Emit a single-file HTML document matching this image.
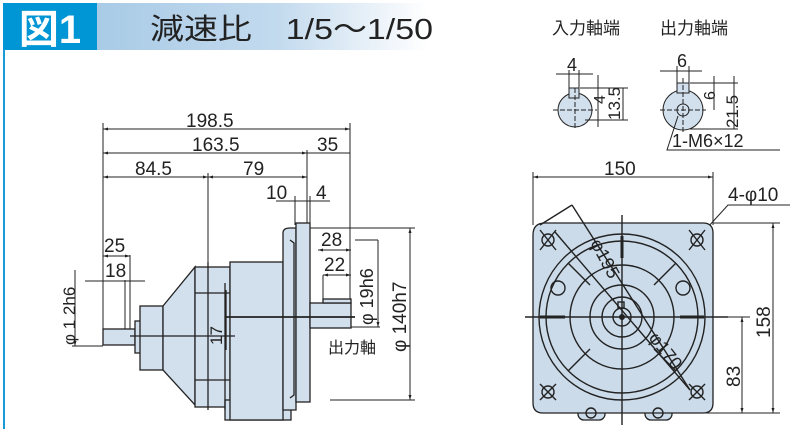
<!DOCTYPE html>
<html><head><meta charset="utf-8"><style>
html,body{margin:0;padding:0;background:#fff;width:800px;height:440px;overflow:hidden}
svg{display:block}
text{font-family:"Liberation Sans","Noto Sans CJK JP",sans-serif;fill:#222}
</style></head><body>
<svg width="800" height="440" viewBox="0 0 800 440" xmlns="http://www.w3.org/2000/svg">
<defs>
<linearGradient id="g" x1="0" x2="1"><stop offset="0" stop-color="#a9cbe6"/><stop offset="0.55" stop-color="#c3daee"/><stop offset="1" stop-color="#ffffff"/></linearGradient>
<marker id="a" viewBox="0 0 10 10" refX="10" refY="5" markerWidth="6" markerHeight="5" orient="auto-start-reverse"><path d="M0,2 L10,5 L0,8z" fill="#222"/></marker>
</defs>
<rect x="97" y="3" width="330" height="47" fill="url(#g)"/>
<rect x="3" y="3" width="94" height="47" fill="#0095d4"/>
<text x="50" y="43" font-size="40" font-weight="bold" text-anchor="middle" style="fill:#fff">図1</text>
<text x="150" y="39" font-size="29" textLength="283" lengthAdjust="spacingAndGlyphs">減速比　1/5～1/50</text>
<text x="552" y="34" font-size="17">入力軸端</text>
<text x="660" y="34" font-size="17">出力軸端</text>
<line x1="4" y1="50" x2="4" y2="429" stroke="#1a9ad6" stroke-width="2"/>

<g stroke="#222" stroke-width="1" fill="none">
<line x1="103" y1="123" x2="103" y2="342"/>
<line x1="350" y1="123" x2="350" y2="310"/>
<line x1="307" y1="150" x2="307" y2="225"/>
<line x1="208" y1="173" x2="208" y2="262"/>
<line x1="103" y1="129" x2="350" y2="129" marker-start="url(#a)" marker-end="url(#a)"/>
<line x1="103" y1="153" x2="307" y2="153" marker-start="url(#a)" marker-end="url(#a)"/>
<line x1="307" y1="153" x2="350" y2="153"/>
<line x1="103" y1="177" x2="208" y2="177" marker-start="url(#a)" marker-end="url(#a)"/>
<line x1="208" y1="177" x2="307" y2="177" marker-start="url(#a)" marker-end="url(#a)"/>
<line x1="276" y1="201" x2="330" y2="201"/>
<line x1="295" y1="196" x2="295" y2="225"/>
<line x1="310" y1="196" x2="310" y2="225"/>
<line x1="130" y1="255" x2="130" y2="330"/>
<line x1="125" y1="280" x2="125" y2="330"/>
<line x1="103" y1="256" x2="130" y2="256" marker-start="url(#a)" marker-end="url(#a)"/>
<line x1="85" y1="281" x2="145" y2="281"/>
<line x1="75" y1="270" x2="75" y2="346" marker-end="url(#a)"/>
<line x1="72" y1="346" x2="103" y2="346"/>
<line x1="318" y1="250" x2="351" y2="250" marker-start="url(#a)" marker-end="url(#a)"/>
<line x1="323" y1="275" x2="351" y2="275" marker-start="url(#a)" marker-end="url(#a)"/>
<line x1="323" y1="275" x2="323" y2="300"/>
<line x1="310" y1="228" x2="415" y2="228"/>
<line x1="330" y1="400" x2="415" y2="400"/>
<line x1="410" y1="228" x2="410" y2="400" marker-start="url(#a)" marker-end="url(#a)"/>
<line x1="355" y1="240" x2="378" y2="240"/>
<line x1="378" y1="240" x2="378" y2="327" marker-end="url(#a)"/>
<line x1="351" y1="327" x2="380" y2="327"/>
</g>
<g stroke="#222" stroke-width="1.3" fill="#d2dfec">
<rect x="103" y="329" width="32" height="16"/>
<rect x="135" y="321" width="6" height="32"/>
<rect x="140" y="306" width="23" height="64"/>
<path d="M163,306 L195,267 L195,405 L163,370Z"/>
<rect x="195" y="267" width="35" height="140"/>
<rect x="225" y="400" width="66" height="20"/>
<rect x="230" y="262" width="53" height="158"/>
<path d="M283,233 Q283,228 290,228 L296,228 L296,410 L283,410Z"/>
<rect x="296" y="223" width="14" height="179"/>
<rect x="310" y="303" width="41" height="25"/>
<rect x="323" y="299" width="28" height="4"/>
</g>
<g stroke="#222" stroke-width="1.3" fill="none">
<line x1="195" y1="293" x2="230" y2="293"/><line x1="195" y1="380" x2="230" y2="380"/>
<line x1="208" y1="262" x2="208" y2="410"/>
<line x1="225" y1="283" x2="225" y2="410"/>
<path d="M290,240 L294,243 L294,395 L290,398"/>
<line x1="130" y1="336" x2="235" y2="336"/>
<line x1="225" y1="317" x2="355" y2="317" stroke-width="1.8"/>
<line x1="226" y1="290" x2="226" y2="350"/>
</g>
<text x="328" y="353" font-size="16">出力軸</text>
<g font-size="19">
<text x="186" y="127">198.5</text>
<text x="192" y="151">163.5</text>
<text x="317" y="151">35</text>
<text x="135" y="175">84.5</text>
<text x="243" y="175">79</text>
<text x="266" y="199">10</text>
<text x="316" y="199">4</text>
<text x="104" y="252">25</text>
<text x="105" y="277">18</text>
<text x="321" y="246">28</text>
<text x="324" y="271">22</text>
</g>
<text transform="translate(75,345) rotate(-90)" font-size="17">φ 1 2h6</text>
<text transform="translate(222,345) rotate(-90)" font-size="17">17</text>
<text transform="translate(373,325) rotate(-90)" font-size="18">φ 19h6</text>
<text transform="translate(406,352) rotate(-90)" font-size="19">φ 140h7</text>

<g stroke="#222" stroke-width="1">
<circle cx="575" cy="110" r="17" fill="#d2dfec"/>
<rect x="569" y="88" width="10" height="10" fill="#d2dfec"/>
<line x1="553" y1="110" x2="597" y2="110" stroke-dasharray="5,2"/>
<line x1="575" y1="88" x2="575" y2="130" stroke-dasharray="5,2"/>
<line x1="556" y1="74" x2="593" y2="74"/>
<line x1="569" y1="70" x2="569" y2="88"/><line x1="579" y1="70" x2="579" y2="88"/>
<line x1="598" y1="75" x2="598" y2="127"/>
<line x1="580" y1="88" x2="628" y2="88"/><line x1="585" y1="120" x2="628" y2="120"/>
<line x1="623" y1="88" x2="623" y2="120"/>
<circle cx="683" cy="110" r="20" fill="#d2dfec"/>
<rect x="677" y="83" width="12" height="10" fill="#d2dfec"/>
<circle cx="683" cy="110" r="6" fill="#d2dfec"/>
<line x1="660" y1="110" x2="706" y2="110" stroke-dasharray="5,2"/>
<line x1="683" y1="78" x2="683" y2="133" stroke-dasharray="5,2"/>
<line x1="660" y1="71" x2="702" y2="71"/>
<line x1="677" y1="66" x2="677" y2="83"/><line x1="689" y1="66" x2="689" y2="83"/>
<line x1="690" y1="83" x2="738" y2="83"/><line x1="690" y1="129" x2="738" y2="129"/>
<line x1="714" y1="76" x2="714" y2="110"/><line x1="734" y1="76" x2="734" y2="129"/>
<polyline points="678,116 667,150 780,150" fill="none"/>
</g>
<text x="567" y="71" font-size="18">4</text>
<text x="677" y="67" font-size="18">6</text>
<text transform="translate(620,120) rotate(-90)" font-size="17">13.5</text>
<text transform="translate(605,104) rotate(-90)" font-size="16">4</text>
<text transform="translate(715,100) rotate(-90)" font-size="16">6</text>
<text transform="translate(738,128) rotate(-90)" font-size="17">21.5</text>
<text x="672" y="147" font-size="18">1-M6×12</text>

<g stroke="#222" stroke-width="1" fill="none">
<line x1="533" y1="172" x2="533" y2="225"/><line x1="713" y1="172" x2="713" y2="225"/>
<line x1="533" y1="177" x2="713" y2="177" marker-start="url(#a)" marker-end="url(#a)"/>
<line x1="713" y1="223" x2="780" y2="223"/>
<line x1="595" y1="413" x2="780" y2="413"/>
<line x1="725" y1="317" x2="750" y2="317"/>
<line x1="773" y1="223" x2="773" y2="413" marker-start="url(#a)" marker-end="url(#a)"/>
<line x1="742" y1="317" x2="742" y2="413" marker-start="url(#a)" marker-end="url(#a)"/>
<polyline points="697,239 728,205 790,205"/>
</g>
<text x="604" y="175" font-size="19">150</text>
<text x="728" y="201" font-size="19">4-φ10</text>
<text transform="translate(770,338) rotate(-90)" font-size="19">158</text>
<text transform="translate(740,387) rotate(-90)" font-size="19">83</text>
<g stroke="#222" stroke-width="1.3" fill="#cbdbea">
<rect x="578" y="400" width="27" height="20" rx="6"/>
<rect x="645" y="400" width="27" height="20" rx="6"/>
<path d="M545,223 L703,223 Q713,223 713,233 L713,403 Q713,413 703,413 L543,413 Q533,413 533,403 L533,235 Q533,223 545,223Z"/>
</g>
<g stroke="#222" stroke-width="1.4" fill="none">
<circle cx="622" cy="317" r="83"/>
<circle cx="622" cy="317" r="76"/>
<circle cx="622" cy="317" r="52"/>
<circle cx="622" cy="317" r="32"/>
<circle cx="622" cy="317" r="20"/>
<circle cx="622" cy="317" r="9"/>
<circle cx="558" cy="288" r="7"/><circle cx="683" cy="288" r="7"/>
<circle cx="548" cy="240" r="6"/><circle cx="697" cy="240" r="6"/>
<circle cx="548" cy="392" r="6"/><circle cx="697" cy="392" r="6"/>
<circle cx="591" cy="413" r="5"/><circle cx="658" cy="413" r="5"/>
<line x1="568" y1="263" x2="590" y2="285"/><line x1="676" y1="263" x2="654" y2="285"/>
<line x1="568" y1="371" x2="590" y2="349"/><line x1="676" y1="371" x2="654" y2="349"/>
<line x1="540" y1="230" x2="556" y2="250"/><line x1="556" y1="230" x2="540" y2="250"/>
<line x1="689" y1="230" x2="705" y2="250"/><line x1="705" y1="230" x2="689" y2="250"/>
<line x1="540" y1="384" x2="556" y2="400"/><line x1="556" y1="384" x2="540" y2="400"/>
<line x1="689" y1="384" x2="705" y2="400"/><line x1="705" y1="384" x2="689" y2="400"/>
<line x1="525" y1="317" x2="728" y2="317"/>
<line x1="622" y1="215" x2="622" y2="425"/>
<line x1="572" y1="205" x2="690" y2="390"/>
<line x1="540" y1="225" x2="572" y2="205"/>
<line x1="555" y1="232" x2="690" y2="390"/>
<rect x="618" y="302" width="6" height="6"/>
</g>
<g stroke="#222" stroke-width="3">
<line x1="540" y1="317" x2="565" y2="317"/><line x1="680" y1="317" x2="704" y2="317"/>
<line x1="622" y1="236" x2="622" y2="258"/>
</g>
<circle cx="622" cy="317" r="3" fill="#222"/>
<text transform="translate(590,243) rotate(62)" font-size="18">φ195</text>
<text transform="translate(648,338) rotate(52)" font-size="18">φ170</text>
</svg>
</body></html>
